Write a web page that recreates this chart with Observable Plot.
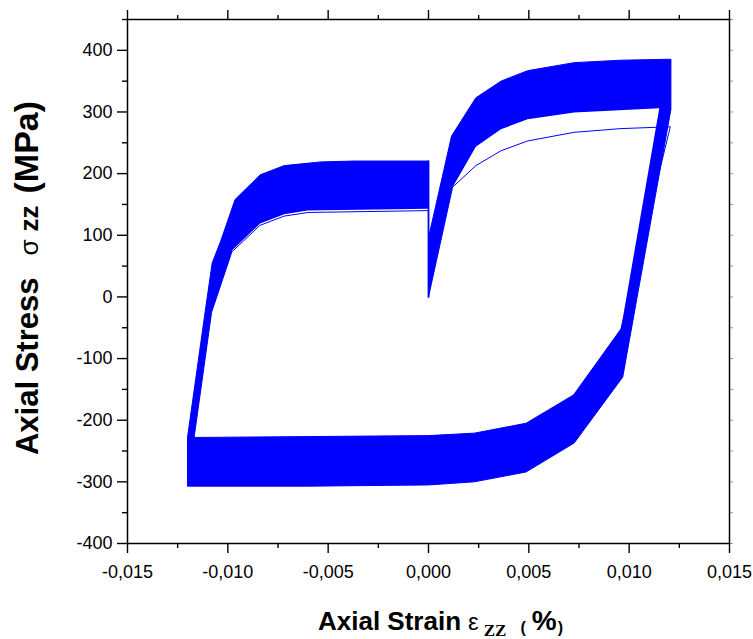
<!DOCTYPE html>
<html>
<head>
<meta charset="utf-8">
<script src="https://cdn.jsdelivr.net/npm/d3@7"></script>
<script src="https://cdn.jsdelivr.net/npm/@observablehq/plot@0.6"></script>
<style>
html, body { margin: 0; padding: 0; background: #fff; }
svg { display: block; }
</style>
</head>
<body>
<div id="chart"></div>
<script>
// Outer envelope of all cycles (axial strain, axial stress MPa)
const outerStrain = [-0.01201, -0.0111, -0.01078, -0.01035, -0.00964, -0.00839, -0.00719, -0.00536, -0.0037, 0, 0,
  0.00115, 0.00236, 0.00361, 0.00494, 0.00726, 0.00959, 0.01208, 0.01208, 0.00968, 0.00726, 0.00486, 0.00228, 0,
  -0.006, -0.01201, -0.01201];
const outerStress = [-228, -17, 55, 91, 158, 198, 213, 219, 220.4, 220.4, 96,
  261, 323, 350, 367, 380, 384, 385.5, 304, -130, -237, -284, -300, -305,
  -307, -307, -228];

// Inner envelope (the empty interior of the loops)
const innerStrain = [0, 0.0012, 0.00236, 0.00361, 0.00494, 0.00726, 0.0115, 0.00959, 0.00723, 0.00486, 0.00228, 0,
  -0.01168, -0.01081, -0.00977, -0.00839, -0.00719, -0.00603, 0];
const innerStress = [0, 178, 243.6, 272, 288, 299, 306, -52, -159, -205, -221, -225,
  -228, -25, 76, 119, 134, 140, 143];

// Unloading drops at zero strain
const dropStrain = [0, 0];
const dropStress = [220.4, 0];

// First cycle (thin line)
const firstStrain = [0, 0.0012, 0.00236, 0.00361, 0.00494, 0.00726, 0.00959, 0.01205, 0.00959, 0.00723, 0.00486, 0.00228, 0,
  -0.01168, -0.01081, -0.0098, -0.0084, -0.0072, -0.006, 0];
const firstStress = [0, 178, 213, 237, 253, 267, 273, 276, -52, -159, -205, -221, -225,
  -228, -25, 73, 116, 131, 137, 140];

// Axis ticks
const xMajor = [-0.015, -0.010, -0.005, 0, 0.005, 0.010, 0.015];
const xMinor = [-0.0125, -0.0075, -0.0025, 0.0025, 0.0075, 0.0125];
const yMajor = [-400, -300, -200, -100, 0, 100, 200, 300, 400];
const yMinor = [-350, -250, -150, -50, 50, 150, 250, 350, 450];

const BLUE = "#0000ff";
const pts = (xs, ys) => xs.map((x, i) => ({x, y: ys[i]}));
const fmtX = d => (d < 0 ? "-" : "") + Math.abs(d).toFixed(3).replace(".", ",");
const none = () => "";

const plot = Plot.plot({
  width: 753,
  height: 639,
  marginLeft: 127,
  marginRight: 24,
  marginTop: 19,
  marginBottom: 96,
  x: {domain: [-0.015, 0.015]},
  y: {domain: [-400, 450]},
  style: {fontFamily: "'Liberation Sans', Arial, sans-serif", fontSize: "18px", color: "black", background: "white"},
  marks: [
    Plot.line(pts(outerStrain, outerStress), {x: "x", y: "y", fill: BLUE, stroke: BLUE, strokeWidth: 1, curve: "linear"}),
    Plot.line(pts(innerStrain, innerStress), {x: "x", y: "y", fill: "white", stroke: "none", curve: "linear"}),
    Plot.line(pts(dropStrain, dropStress), {x: "x", y: "y", stroke: BLUE, strokeWidth: 1.8}),
    Plot.line(pts(firstStrain, firstStress), {x: "x", y: "y", stroke: BLUE, strokeWidth: 1, curve: "linear"}),
    Plot.frame({stroke: "black", strokeWidth: 1.5}),
    Plot.axisX(xMajor, {anchor: "bottom", tickSize: 10, tickPadding: 12, tickFormat: fmtX, label: null, strokeWidth: 1.4, fontSize: 18}),
    Plot.axisX(xMinor, {anchor: "bottom", tickSize: 5, tickFormat: none, label: null, strokeWidth: 1.4}),
    Plot.axisX(xMajor, {anchor: "top", tickSize: 10, tickFormat: none, label: null, strokeWidth: 1.4}),
    Plot.axisX(xMinor, {anchor: "top", tickSize: 5, tickFormat: none, label: null, strokeWidth: 1.4}),
    Plot.axisY(yMajor, {anchor: "left", tickSize: 10, tickPadding: 5, tickFormat: d => String(d), label: null, strokeWidth: 1.4, fontSize: 18}),
    Plot.axisY(yMinor, {anchor: "left", tickSize: 5, tickFormat: none, label: null, strokeWidth: 1.4}),
    Plot.axisY(yMajor.concat(yMinor), {anchor: "right", tickSize: 3, tickFormat: none, label: null, strokeWidth: 1, strokeOpacity: 0.4})
  ]
});

const svg = d3.select(plot);
// Y axis title
const yt = svg.append("text")
  .attr("transform", "translate(38,278) rotate(-90)")
  .attr("text-anchor", "middle")
  .attr("font-family", "'Liberation Sans', Arial, sans-serif")
  .attr("fill", "black");
yt.append("tspan").attr("font-weight", "bold").attr("font-size", 31).text("Axial Stress");
yt.append("tspan").attr("font-size", 26).attr("dx", 22).text("σ");
yt.append("tspan").attr("font-weight", "bold").attr("font-size", 26).attr("dx", 8).text("zz");
yt.append("tspan").attr("font-weight", "bold").attr("font-size", 34).attr("dx", 12).text("(MPa)");

// X axis title
const xt = svg.append("text")
  .attr("x", 318).attr("y", 630)
  .attr("text-anchor", "start")
  .attr("font-family", "'Liberation Sans', Arial, sans-serif")
  .attr("fill", "black");
xt.append("tspan").attr("font-weight", "bold").attr("font-size", 26).text("Axial Strain");
xt.append("tspan").attr("font-size", 24).attr("dx", 7).text("ε");
xt.append("tspan").attr("font-weight", "bold").attr("font-size", 17).attr("font-family", "'Liberation Serif', serif").attr("dx", 5).attr("dy", 6).text("ZZ");
xt.append("tspan").attr("font-size", 16).attr("font-weight", "bold").attr("dx", 14).attr("dy", -3).text("(");
xt.append("tspan").attr("font-weight", "bold").attr("font-size", 28).attr("dx", 6).attr("dy", -3).text("%");
xt.append("tspan").attr("font-size", 16).attr("font-weight", "bold").attr("dx", 1).attr("dy", 3).text(")");

document.getElementById("chart").appendChild(plot);
</script>
</body>
</html>
